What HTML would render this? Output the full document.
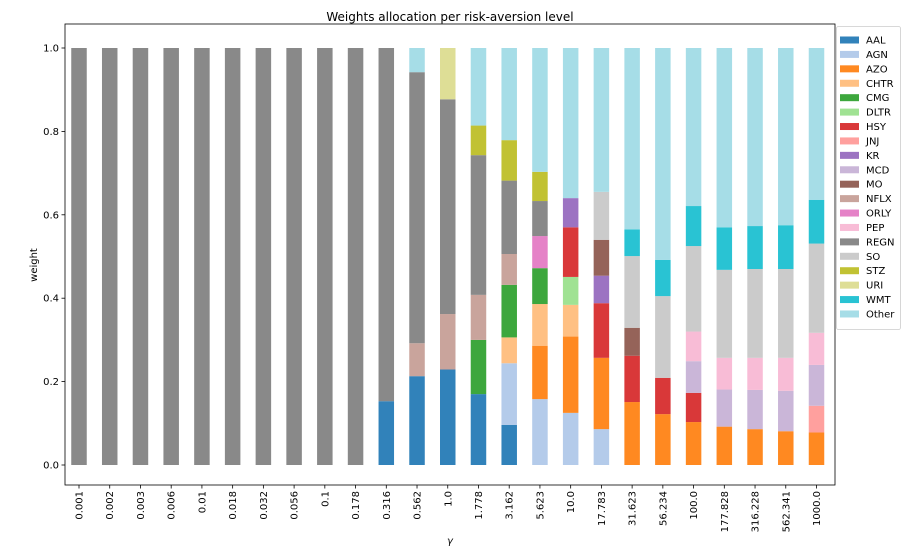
<!DOCTYPE html>
<html><head><meta charset="utf-8"><style>
body{margin:0;background:#fff;}
svg text{font-family:"DejaVu Sans","Liberation Sans",sans-serif;fill:#000;}
</style></head><body>
<svg id="chart" width="904" height="550" xmlns="http://www.w3.org/2000/svg">
<rect width="904" height="550" fill="#fff"/>
<text x="450" y="21" font-size="12" text-anchor="middle">Weights allocation per risk-aversion level</text>
<g id="bars"></g>
<rect x="65" y="24" width="770" height="461" fill="none" stroke="#000" stroke-width="0.8"/>
<g id="axes"></g>
<text transform="translate(37,265) rotate(-90)" font-size="10" text-anchor="middle">weight</text>
<text x="450" y="544" font-size="10" font-style="italic" text-anchor="middle">γ</text>
<g id="legend"></g>
</svg>
<script>
const categories=["0.001","0.002","0.003","0.006","0.01","0.018","0.032","0.056","0.1","0.178","0.316","0.562","1.0","1.778","3.162","5.623","10.0","17.783","31.623","56.234","100.0","177.828","316.228","562.341","1000.0"];
const assets=["AAL","AGN","AZO","CHTR","CMG","DLTR","HSY","JNJ","KR","MCD","MO","NFLX","ORLY","PEP","REGN","SO","STZ","URI","WMT","Other"];
const colors=["#1f77b4","#aec7e8","#ff7f0e","#ffbb78","#2ca02c","#98df8a","#d62728","#ff9896","#9467bd","#c5b0d5","#8c564b","#c49c94","#e377c2","#f7b6d2","#7f7f7f","#c7c7c7","#bcbd22","#dbdb8d","#17becf","#9edae5"];
// weights per category: [asset, value] pairs in stack order
const w0=[["REGN",1]];
const w10=[["AAL",0.153],["REGN",0.847]];
const w11=[["AAL",0.213],["NFLX",0.079],["REGN",0.650],["Other",0.058]];
const w12=[["AAL",0.229],["NFLX",0.133],["REGN",0.515],["URI",0.123]];
const w13=[["AAL",0.170],["CMG",0.130],["NFLX",0.108],["REGN",0.335],["STZ",0.071],["Other",0.186]];
const w14=[["AAL",0.096],["AGN",0.148],["CHTR",0.062],["CMG",0.126],["NFLX",0.074],["REGN",0.176],["STZ",0.097],["Other",0.221]];
const w15=[["AGN",0.158],["AZO",0.128],["CHTR",0.100],["CMG",0.086],["ORLY",0.077],["REGN",0.084],["STZ",0.070],["Other",0.297]];
const w16=[["AGN",0.125],["AZO",0.183],["CHTR",0.076],["DLTR",0.067],["HSY",0.119],["KR",0.070],["Other",0.360]];
const w17=[["AGN",0.086],["AZO",0.171],["HSY",0.131],["KR",0.066],["MO",0.086],["SO",0.115],["Other",0.345]];
const w18=[["AZO",0.151],["HSY",0.111],["MO",0.067],["SO",0.172],["WMT",0.064],["Other",0.435]];
const w19=[["AZO",0.122],["HSY",0.087],["SO",0.196],["WMT",0.087],["Other",0.508]];
const w20=[["AZO",0.103],["HSY",0.070],["MCD",0.076],["PEP",0.071],["SO",0.205],["WMT",0.096],["Other",0.379]];
const w21=[["AZO",0.092],["MCD",0.089],["PEP",0.076],["SO",0.211],["WMT",0.102],["Other",0.430]];
const w22=[["AZO",0.086],["MCD",0.094],["PEP",0.077],["SO",0.213],["WMT",0.103],["Other",0.427]];
const w23=[["AZO",0.081],["MCD",0.097],["PEP",0.079],["SO",0.213],["WMT",0.105],["Other",0.425]];
const w24=[["AZO",0.078],["JNJ",0.064],["MCD",0.098],["PEP",0.077],["SO",0.214],["WMT",0.105],["Other",0.364]];
const weights=[w0,w0,w0,w0,w0,w0,w0,w0,w0,w0,w10,w11,w12,w13,w14,w15,w16,w17,w18,w19,w20,w21,w22,w23,w24];
const yTicks=[0,0.2,0.4,0.6,0.8,1.0];
const yTickLabels=["0.0","0.2","0.4","0.6","0.8","1.0"];

const NS="http://www.w3.org/2000/svg";
const y=v=>465-v*417;
const x=i=>79+i*(737.5/24);
const bw=15.5;
function mk(t,a){const e=document.createElementNS(NS,t);for(const k in a)e.setAttribute(k,a[k]);return e;}
const bars=document.getElementById('bars');
weights.forEach((stack,i)=>{
  let base=0;
  stack.forEach(([a,v])=>{
    const r=mk('rect',{x:x(i)-bw/2,y:y(base+v),width:bw,height:v*417,fill:colors[assets.indexOf(a)],'fill-opacity':0.92});
    
    
    bars.appendChild(r);
    base+=v;
  });
});
const axes=document.getElementById('axes');
yTicks.forEach((t,k)=>{
  const l=mk('line',{x1:61.5,x2:65,y1:y(t),y2:y(t),stroke:'#000','stroke-width':0.8});
  
  
  axes.appendChild(l);
  const tx=mk('text',{x:59,y:y(t)+3.5,'font-size':10,'text-anchor':'end'});
  
  
  tx.textContent=yTickLabels[k];axes.appendChild(tx);
});
categories.forEach((c,i)=>{
  const l=mk('line',{x1:x(i),x2:x(i),y1:485,y2:488.5,stroke:'#000','stroke-width':0.8});
  
  
  axes.appendChild(l);
  const tx=mk('text',{transform:`translate(${x(i)+3.5},491) rotate(-90)`,'font-size':10,'text-anchor':'end'});
  
  
  tx.textContent=c;axes.appendChild(tx);
});
const leg=document.getElementById('legend');
const box=mk('rect',{x:836.5,y:26.5,width:64,height:303,rx:2,fill:'#fff',stroke:'#ccc','stroke-width':0.8});


leg.appendChild(box);
assets.forEach((a,k)=>{
  const cy=40+k*14.42;
  const g=mk('g',{});
  
  
  g.appendChild(mk('rect',{x:840,y:cy-3.5,width:19,height:7,fill:colors[k],'fill-opacity':0.92}));
  const t=mk('text',{x:866,y:cy+3.5,'font-size':10});t.textContent=a;g.appendChild(t);
  leg.appendChild(g);
});
</script>
</body></html>
